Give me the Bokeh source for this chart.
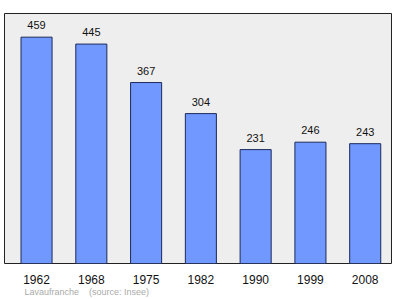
from bokeh.plotting import figure
from bokeh.models import Range1d, FixedTicker, Title, ColumnDataSource
from bokeh.core.properties import value
from bokeh.embed import file_html
from bokeh.resources import INLINE

years = ["1962", "1968", "1975", "1982", "1990", "1999", "2008"]
population = [459, 445, 367, 304, 231, 246, 243]
source_text = "Lavaufranche\u00a0\u00a0\u00a0\u00a0(source: Insee)"

xs = list(range(len(years)))
src = ColumnDataSource(dict(x=xs, top=population, lbl=[str(v) for v in population]))

p = figure(width=400, height=299, output_backend="svg", toolbar_location=None,
           x_range=Range1d(-0.585, 6.48), y_range=Range1d(0, 507),
           min_border_left=4, min_border_right=9, min_border_top=13, min_border_bottom=36)
p.background_fill_color = "#eeeeee"
p.border_fill_color = "white"
p.outline_line_color = "#222222"
p.outline_line_width = 1
p.grid.visible = False
p.yaxis.visible = False

p.vbar(x="x", top="top", width=0.567, bottom=0, source=src,
       fill_color="#7098ff", line_color="#1c2a5a", line_width=1)
p.text(x="x", y="top", text="lbl", source=src, y_offset=-12,
       text_align="center", text_baseline="middle", text_font_size="11px",
       text_font=value("Liberation Sans"), text_color="#111111")

p.xaxis.ticker = FixedTicker(ticks=xs)
p.xaxis.major_label_overrides = {i: y for i, y in enumerate(years)}
p.xaxis.axis_line_color = None
p.xaxis.major_tick_line_color = None
p.xaxis.minor_tick_line_color = None
p.xaxis.major_label_standoff = 5
p.xaxis.major_label_text_font_size = "12px"
p.xaxis.major_label_text_font = "Liberation Sans"
p.xaxis.major_label_text_color = "#111111"

t = Title(text=source_text, align="left", text_font_size="9px",
          text_font="Liberation Sans", text_color="#aaaaaa", text_font_style="normal",
          offset=20, standoff=-3)
p.add_layout(t, "below")

open("out.html", "w").write(file_html(p, INLINE))
